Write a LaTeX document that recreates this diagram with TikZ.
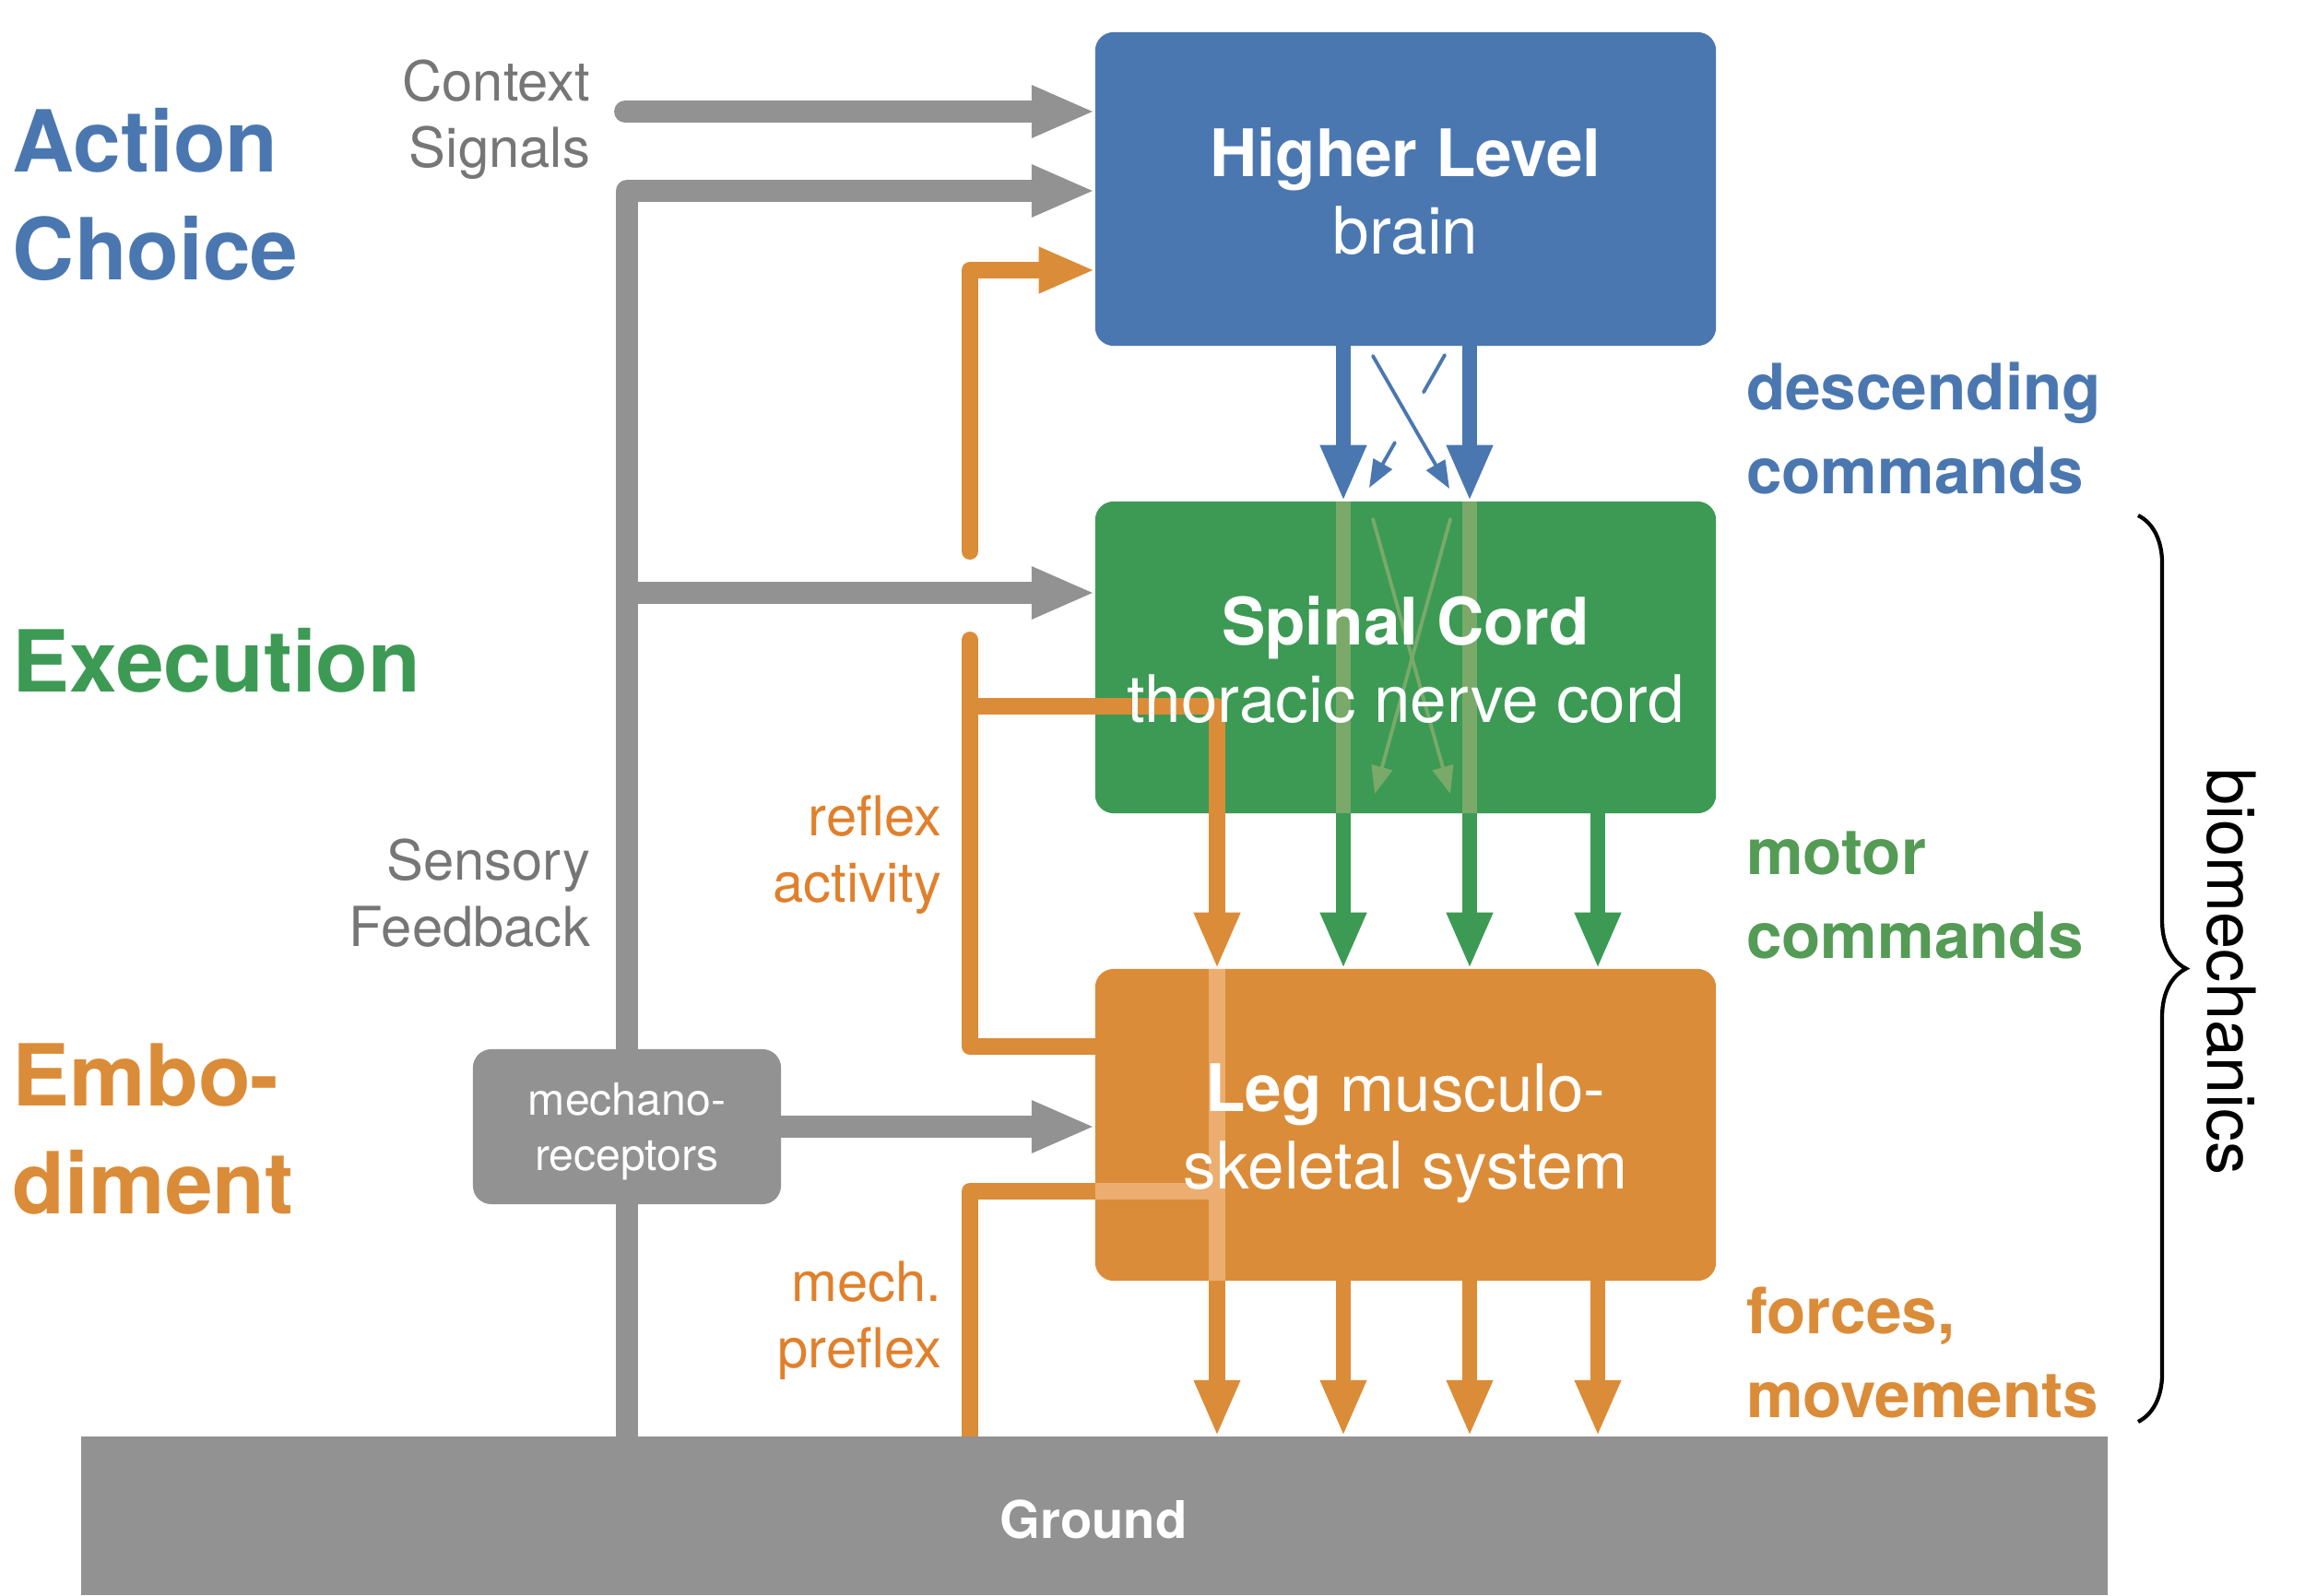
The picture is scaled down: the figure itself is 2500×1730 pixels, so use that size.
\documentclass[tikz,border=0pt]{standalone}
\usepackage{fontspec}
\setmainfont{TeX Gyre Heros}
\usetikzlibrary{arrows.meta,calc,decorations.pathreplacing}
\pgfdeclarelayer{bg}
\pgfsetlayers{bg,main}
\definecolor{cblue}{HTML}{4A77B0}
\definecolor{cgreen}{HTML}{3C9A54}
\definecolor{corange}{HTML}{DB8C38}
\definecolor{cgray}{HTML}{929292}
\definecolor{ctext}{HTML}{767676}
\definecolor{lgreen}{HTML}{7AA96A}
\definecolor{lorange}{HTML}{EBAE70}
\definecolor{tgreen}{HTML}{549B55}
\definecolor{torange}{HTML}{E0802C}
\newcommand\mlines[2]{\begin{tabular}[t]{@{}#1@{}}#2\end{tabular}}
\newcommand\setfs[2]{\fontsize{#1}{#2}\selectfont}
\begin{document}
\begin{tikzpicture}[x=0.01cm,y=-0.01cm,
  box/.style={rounded corners=0.2cm,inner sep=0pt,outer sep=0pt,draw=none},
  lbl/.style={inner sep=0pt,outer sep=0pt},
  garrow/.style={draw=cgray,line width=6.8pt,line cap=round,line join=round,-{Triangle[length=19.6pt,width=14.8pt]}},
  oline/.style={draw=corange,line width=5.1pt,line cap=round,line join=round},
  oarrow/.style={oline,-{Triangle[length=17.4pt,width=13.1pt]}},
  thickarr/.style={line width=4.8pt,-{Triangle[length=17.4pt,width=13.1pt]}},
  thinarr/.style={line width=1.1pt,line cap=round,-{Triangle[length=8.5pt,width=6.5pt]}},
  big/.style={lbl,font=\setfs{26.4pt}{33.3pt}\bfseries,anchor=base west},
  side/.style={lbl,font=\setfs{17pt}{20.6pt},anchor=base east},
  rlab/.style={lbl,font=\setfs{19.7pt}{25.9pt}\bfseries,anchor=base west},
  intext/.style={lbl,font=\setfs{20.2pt}{24pt},text=white,anchor=base},
]
\useasboundingbox (0,0) rectangle (2500,1730);

% ---- boxes
\node[fill=cgray,inner sep=0pt,outer sep=0pt,minimum width=21.96cm,minimum height=1.72cm] (ground) at (1187,1644) {};
\node[box,fill=cblue,minimum width=6.73cm,minimum height=3.40cm] (hl) at (1524.5,205) {};
\node[box,fill=cgreen,minimum width=6.73cm,minimum height=3.38cm] (sc) at (1524.5,713) {};
\node[box,fill=corange,minimum width=6.73cm,minimum height=3.38cm] (leg) at (1524.5,1220) {};

% ---- columns
\coordinate (c1) at (1457,0);
\coordinate (c2) at (1594,0);
\coordinate (c3) at (1733,0);

% ---- blue descending
\draw[thickarr,cblue] (hl.south -| c1) -- (sc.north -| c1);
\draw[thickarr,cblue] (hl.south -| c2) -- (sc.north -| c2);
\coordinate (b1s) at (1489,386);
\coordinate (b1e) at (1572,530);
\coordinate (b2s) at (1567,385);
\coordinate (b2e) at (1485,529);
\draw[thinarr,cblue] (b1s) -- (b1e);
\draw[cblue,line width=1.1pt,line cap=round] (b2s) -- ($(b2s)!0.28!(b2e)$);
\draw[thinarr,cblue] ($(b2s)!0.66!(b2e)$) -- (b2e);

% ---- inside spinal cord
\draw[lgreen,line width=4.8pt] (sc.north -| c1) -- (sc.south -| c1);
\draw[lgreen,line width=4.8pt] (sc.north -| c2) -- (sc.south -| c2);
\coordinate (g1s) at (1489,563);
\coordinate (g1e) at (1573,861);
\coordinate (g2s) at (1573,563);
\coordinate (g2e) at (1491,861);
\draw[thinarr,lgreen] (g1s) -- (g1e);
\draw[thinarr,lgreen] (g2s) -- (g2e);

% ---- gray signals
\coordinate (ctx) at (678,121);
\coordinate (tk) at (680,207);
\coordinate (br) at (680,643);
\draw[garrow] (ctx) -- (hl.west |- ctx);
\begin{pgfonlayer}{bg}
\draw[garrow] (ground.north -| tk) -- (tk) -- (hl.west |- tk);
\end{pgfonlayer}
\draw[garrow,line cap=butt] (br) -- (sc.west |- br);
\node[box,fill=cgray,minimum width=3.34cm,minimum height=1.68cm] (mech) at (680,1222) {};
\draw[garrow,line cap=butt] (mech.east) -- (leg.west |- mech.east);

% ---- orange reflex paths
\coordinate (o1b) at (1052,598);
\coordinate (o1t) at (1052,293);
\draw[oarrow] (o1b) -- (o1t) -- (hl.west |- o1t);
\coordinate (o2t) at (1052,694);
\coordinate (o2b) at (1052,1135);
\draw[oline] (o2t) -- (o2b) -- (leg.west |- o2b);
\coordinate (o3s) at (1052,766);
\coordinate (o3c) at (1320,766);
\draw[oarrow] (o3s) -- (o3c) -- (leg.north -| o3c);
\coordinate (o4c) at (1052,1292);
\coordinate (o4d) at (1320,1292);
\begin{pgfonlayer}{bg}
\draw[oarrow] (ground.north -| o4c) -- (o4c) -- (o4d) -- (ground.north -| o4d);
\end{pgfonlayer}
\draw[lorange,line width=5.1pt] (leg.west |- o4d) -- (o4d);
\draw[lorange,line width=5.1pt] (leg.north -| o4d) -- (leg.south -| o4d);

% ---- motor commands
\draw[thickarr,cgreen] (sc.south -| c1) -- (leg.north -| c1);
\draw[thickarr,cgreen] (sc.south -| c2) -- (leg.north -| c2);
\draw[thickarr,cgreen] (sc.south -| c3) -- (leg.north -| c3);

% ---- forces
\draw[thickarr,corange] (leg.south -| c1) -- (ground.north -| c1);
\draw[thickarr,corange] (leg.south -| c2) -- (ground.north -| c2);
\draw[thickarr,corange] (leg.south -| c3) -- (ground.north -| c3);

% ---- brace
\coordinate (bt) at (2319,559);
\coordinate (bb) at (2319,1542);
\draw[line width=1.2pt,decorate,decoration={brace,amplitude=0.52cm}] (bt) -- (bb);

% ---- texts
\node[big,text=cblue] (tac) at (14,186) {\mlines{l}{Action\\Choice}};
\node[big,text=cgreen] (tex) at (14,750) {Execution};
\node[big,text=corange] (tem) at (14,1199) {\mlines{l}{Embo-\\diment}};
\node[side,text=ctext] (tcs) at (640,109) {\mlines{r}{Context\\Signals}};
\node[side,text=ctext] (tsf) at (640,954) {\mlines{r}{Sensory\\Feedback}};
\node[side,text=torange] (tra) at (1021,906) {\mlines{r}{reflex\\activity}};
\node[side,text=torange] (tmp) at (1021,1411) {\mlines{r}{mech.\\preflex}};
\node[rlab,text=cblue] (tdc) at (1894,444) {\mlines{l}{descending\\commands}};
\node[rlab,text=tgreen] (tmc) at (1894,948) {\mlines{l}{motor\\commands}};
\node[rlab,text=corange] (tfm) at (1894,1446) {\mlines{l}{forces,\\movements}};
\node[intext] (thl) at (1524.5,191) {\mlines{c}{\textbf{Higher Level}\\brain}};
\node[intext] (tsc) at (1524.5,699) {\mlines{c}{\textbf{Spinal Cord}\\thoracic nerve cord}};
\node[intext] (tlg) at (1524.5,1205) {\mlines{c}{\textbf{Leg} musculo-\\skeletal system}};
\node[lbl,font=\setfs{13.7pt}{17.3pt},text=white,anchor=base] (tmr) at (680,1209) {\mlines{c}{mechano-\\receptors}};
\node[lbl,font=\setfs{16pt}{19pt}\bfseries,text=white,anchor=base] (tgr) at (1186,1668) {Ground};
\node[lbl,font=\setfs{20.5pt}{24pt},rotate=-90,anchor=base] (tbm) at (2394,1054) {biomechanics};
\end{tikzpicture}
\end{document}
